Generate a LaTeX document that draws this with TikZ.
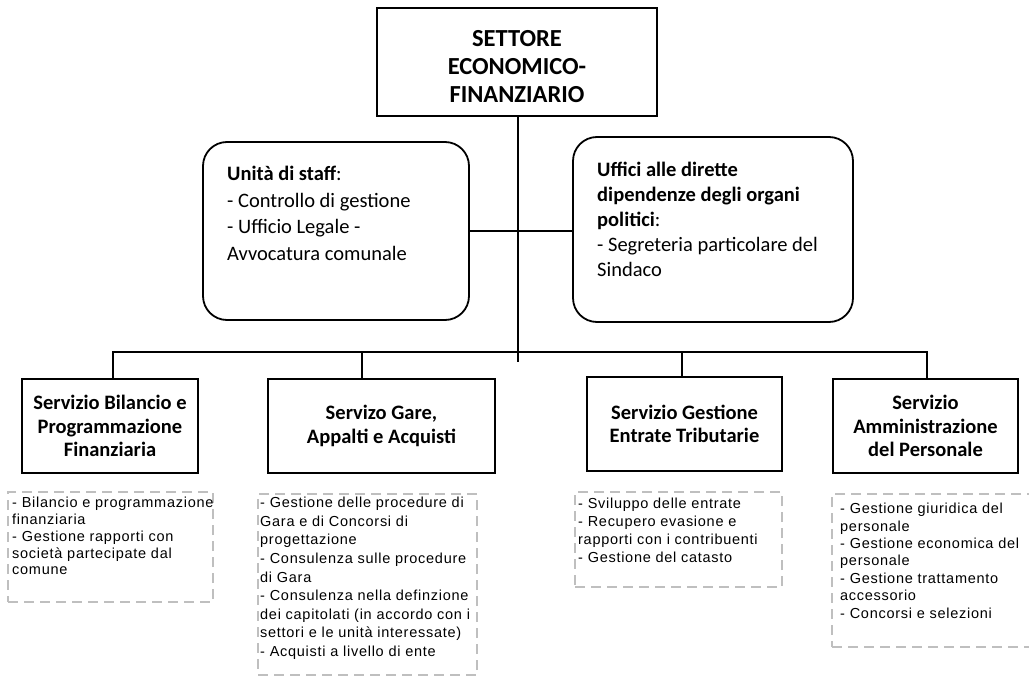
\documentclass[tikz,border=0pt]{standalone}
\usepackage{fontspec}
\setmainfont{Carlito}
\newfontfamily\arialf[LetterSpace=5]{Liberation Sans}
\definecolor{dashgray}{HTML}{BFBFBF}
\tikzset{
  box/.style={draw=black, line width=1.8pt, inner sep=0pt, font=\bfseries\fontsize{20.5}{23.5}\selectfont, align=center},
  rbox/.style={draw=black, line width=1.8pt, rounded corners=24pt, inner sep=0pt},
  rtext/.style={anchor=north west, inner sep=0pt, align=left, font=\fontsize{20.5}{25.5}\selectfont},
  dbox/.style={draw=dashgray, line width=2.6pt, dash pattern=on 10pt off 6pt, inner sep=0pt},
  dtext/.style={anchor=north west, inner sep=0pt, align=left, font=\arialf\fontsize{14.5}{17}\selectfont},
  conn/.style={draw=black, line width=1.6pt}
}
\begin{document}
\begin{tikzpicture}[x=1pt,y=-1pt]
\useasboundingbox (0,0) rectangle (1029,677);
% top box
\node[box, minimum width=280pt, minimum height=108pt] (top) at (517,62) {};
\node[inner sep=0pt, align=center, font=\bfseries\fontsize{24.5}{28}\selectfont] (topt) at (517,67) {SETTORE\\ECONOMICO-\\FINANZIARIO};
% staff
\node[rbox, minimum width=266pt, minimum height=178pt] (staff) at (336,231) {};
\node[rtext, font=\fontsize{20.5}{26.5}\selectfont] (stafft) at (227,166) {\textbf{Unità di staff}:\\- Controllo di gestione\\- Ufficio Legale -\\Avvocatura comunale};
% uffici
\node[rbox, minimum width=280pt, minimum height=185pt] (uff) at (713,229.5) {};
\node[rtext, font=\fontsize{20.5}{25}\selectfont] (ufft) at (597,162) {\textbf{Uffici alle dirette}\\\textbf{dipendenze degli organi}\\\textbf{politici}:\\- Segreteria particolare del\\Sindaco};
% services
\node[box, minimum width=176pt, minimum height=94pt] (b1) at (110,426) {Servizio Bilancio e\\Programmazione\\Finanziaria};
\node[box, minimum width=227pt, minimum height=94pt] (b2) at (381.5,426) {Servizo Gare,\\Appalti e Acquisti};
\node[box, minimum width=195pt, minimum height=94pt] (b3) at (684.5,424) {Servizio Gestione\\Entrate Tributarie};
\node[box, minimum width=185pt, minimum height=94pt] (b4) at (925.5,426) {Servizio\\Amministrazione\\del Personale};
% dashed boxes
\node[dbox, minimum width=205pt, minimum height=110pt] (d1) at (110.5,547) {};
\node[dtext, font=\arialf\fontsize{14.5}{16.8}\selectfont] (d1t) at (12,497) {- Bilancio e programmazione\\finanziaria\\- Gestione rapporti con\\società partecipate dal\\comune};
\node[dbox, minimum width=219pt, minimum height=181pt] (d2) at (367.5,584.5) {};
\node[dtext, font=\arialf\fontsize{14.5}{18.6}\selectfont] (d2t) at (260,497) {- Gestione delle procedure di\\Gara e di Concorsi di\\progettazione\\- Consulenza sulle procedure\\di Gara\\- Consulenza nella definzione\\dei capitolati (in accordo con i\\settori e le unità interessate)\\- Acquisti a livello di ente};
\node[dbox, minimum width=207pt, minimum height=95pt] (d3) at (678.5,539.5) {};
\node[dtext, font=\arialf\fontsize{14.5}{18}\selectfont] (d3t) at (578,498) {- Sviluppo delle entrate\\- Recupero evasione e\\rapporti con i contribuenti\\- Gestione del catasto};
\node[dbox, minimum width=210pt, minimum height=153pt] (d4) at (937,570.5) {};
\node[dtext, font=\arialf\fontsize{14.5}{17.4}\selectfont] (d4t) at (840,503) {- Gestione giuridica del\\personale\\- Gestione economica del\\personale\\- Gestione trattamento\\accessorio\\- Concorsi e selezioni};
% connectors
\coordinate (bus) at (518,352);
\coordinate (cend) at (518,362);
\coordinate (d2top) at (362,379);
\draw[conn] (top.south -| bus) -- (cend);
\draw[conn] (staff.east) -- (staff.east -| uff.west);
\draw[conn] (b1.north -| 113,0) |- (bus) -| (b4.north -| 927,0);
\draw[conn] (d2top) -- (d2top |- bus);
\draw[conn] (b3.north -| 682,0) -- (bus -| 682,0);
\end{tikzpicture}
\end{document}
